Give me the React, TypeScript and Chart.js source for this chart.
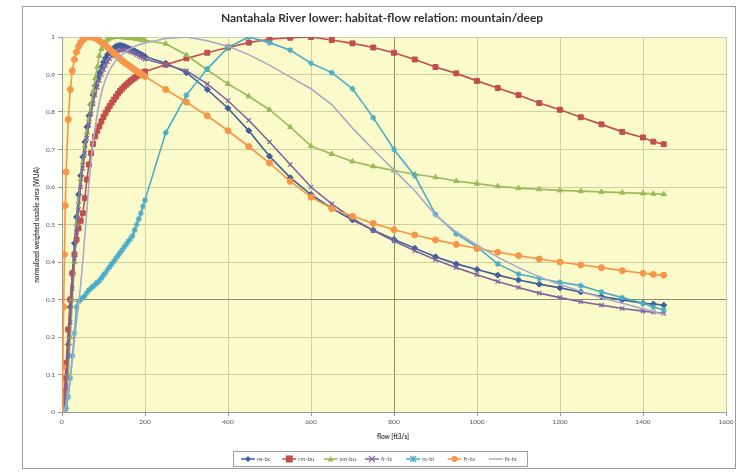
import React, { useEffect, useRef } from "react";
import { Chart, registerables } from "chart.js";

Chart.register(...registerables);

const TITLE = "Nantahala River lower: habitat-flow relation: mountain/deep";
const X_TITLE = "flow [ft3/s]";
const Y_TITLE = "normalized weighted usable area (WUA)";

const FLOWS = [
  0, 2, 4, 6, 8, 10, 15, 20, 25, 30, 35, 40, 45, 50, 55, 60, 65, 70, 75, 80, 85, 90, 95, 100,
  105, 110, 115, 120, 125, 130, 135, 140, 145, 150, 155, 160, 165, 170, 175, 180, 185, 190, 195, 200,
  250, 300, 350, 400, 450, 500, 550, 600, 650, 700, 750, 800, 850, 900, 950, 1000, 1050, 1100,
  1150, 1200, 1250, 1300, 1350, 1400, 1425, 1450,
];

const SERIES_NAMES = ["re-bc", "rm-bu", "sm-bu", "fr-ts", "rs-bi", "fr-ta", "fs-ts"];

const reBc = [
  0, 0, 0.01, 0.03, 0.06, 0.09, 0.18, 0.28, 0.37, 0.45, 0.52, 0.58, 0.63, 0.68, 0.72, 0.76, 0.79, 0.82, 0.845, 0.87, 0.89, 0.905, 0.92, 0.933,
  0.944, 0.953, 0.96, 0.966, 0.971, 0.975, 0.977, 0.978, 0.977, 0.975, 0.973, 0.97, 0.968, 0.966, 0.963, 0.96, 0.957, 0.954, 0.951, 0.948,
  0.93, 0.905, 0.86, 0.81, 0.75, 0.682, 0.625, 0.58, 0.543, 0.512, 0.485, 0.46, 0.437, 0.414, 0.395, 0.38, 0.365, 0.352,
  0.341, 0.331, 0.32, 0.308, 0.299, 0.29, 0.288, 0.285,
];
const rmBu = [
  0, 0, 0.02, 0.05, 0.09, 0.13, 0.22, 0.3, 0.37, 0.42, 0.46, 0.49, 0.51, 0.53, 0.57, 0.62, 0.66, 0.69, 0.715, 0.735, 0.75, 0.762, 0.775, 0.787,
  0.797, 0.807, 0.816, 0.825, 0.833, 0.841, 0.849, 0.856, 0.862, 0.868, 0.873, 0.878, 0.883, 0.887, 0.891, 0.895, 0.899, 0.902, 0.905, 0.908,
  0.926, 0.943, 0.958, 0.972, 0.985, 0.994, 0.998, 1.0, 0.992, 0.983, 0.972, 0.958, 0.94, 0.92, 0.903, 0.883, 0.864, 0.845,
  0.824, 0.806, 0.786, 0.767, 0.747, 0.732, 0.721, 0.714,
];
const smBu = [
  0, 0, 0, 0.01, 0.02, 0.04, 0.1, 0.2, 0.3, 0.4, 0.5, 0.56, 0.62, 0.665, 0.71, 0.745, 0.78, 0.82, 0.855, 0.89, 0.92, 0.95, 0.968, 0.98,
  0.988, 0.993, 0.996, 0.998, 1.0, 1.0, 1.0, 1.0, 0.999, 0.999, 0.998, 0.998, 0.997, 0.997, 0.996, 0.995, 0.994, 0.993, 0.992, 0.991,
  0.982, 0.952, 0.912, 0.875, 0.842, 0.806, 0.76, 0.709, 0.688, 0.668, 0.655, 0.644, 0.634, 0.626, 0.616, 0.609, 0.602, 0.597,
  0.594, 0.591, 0.589, 0.587, 0.585, 0.583, 0.582, 0.581,
];
const frTs = [
  0, 0, 0.01, 0.02, 0.04, 0.07, 0.15, 0.24, 0.33, 0.41, 0.48, 0.54, 0.6, 0.65, 0.69, 0.73, 0.765, 0.795, 0.822, 0.846, 0.866, 0.884, 0.9, 0.913,
  0.924, 0.934, 0.942, 0.949, 0.955, 0.96, 0.963, 0.965, 0.966, 0.966, 0.965, 0.963, 0.961, 0.959, 0.956, 0.953, 0.95, 0.947, 0.944, 0.941,
  0.926, 0.91, 0.875, 0.83, 0.778, 0.72, 0.66, 0.6, 0.555, 0.516, 0.484, 0.456, 0.43, 0.406, 0.385, 0.366, 0.348, 0.332,
  0.317, 0.305, 0.294, 0.285, 0.276, 0.269, 0.266, 0.263,
];
const rsBi = [
  0, 0, 0, 0, 0.01, 0.01, 0.04, 0.09, 0.15, 0.21, 0.28, 0.295, 0.3, 0.305, 0.31, 0.318, 0.325, 0.33, 0.335, 0.34, 0.345, 0.35, 0.357, 0.365,
  0.372, 0.38, 0.387, 0.395, 0.402, 0.41, 0.417, 0.425, 0.432, 0.44, 0.447, 0.455, 0.462, 0.47, 0.485, 0.5, 0.515, 0.53, 0.548, 0.565,
  0.745, 0.845, 0.915, 0.972, 1.0, 0.985, 0.965, 0.93, 0.905, 0.862, 0.785, 0.7, 0.63, 0.527, 0.475, 0.44, 0.395, 0.368,
  0.356, 0.346, 0.337, 0.32, 0.305, 0.29, 0.28, 0.272,
];
const frTa = [
  0, 0.12, 0.28, 0.42, 0.55, 0.64, 0.78, 0.86, 0.91, 0.94, 0.96, 0.975, 0.985, 0.992, 0.997, 1.0, 1.0, 1.0, 0.999, 0.997, 0.994, 0.99, 0.986, 0.982,
  0.977, 0.972, 0.967, 0.962, 0.957, 0.952, 0.947, 0.942, 0.937, 0.933, 0.929, 0.925, 0.921, 0.917, 0.913, 0.909, 0.905, 0.902, 0.898, 0.895,
  0.86, 0.826, 0.79, 0.75, 0.708, 0.664, 0.615, 0.573, 0.543, 0.522, 0.503, 0.486, 0.472, 0.459, 0.447, 0.436, 0.426, 0.417,
  0.408, 0.4, 0.392, 0.385, 0.377, 0.37, 0.367, 0.365,
];
const fsTs = [
  0, 0, 0, 0, 0.01, 0.02, 0.05, 0.09, 0.14, 0.19, 0.24, 0.29, 0.34, 0.4, 0.47, 0.54, 0.61, 0.67, 0.72, 0.76, 0.795, 0.825, 0.85, 0.87,
  0.887, 0.9, 0.912, 0.922, 0.93, 0.937, 0.943, 0.948, 0.953, 0.958, 0.962, 0.966, 0.969, 0.972, 0.975, 0.977, 0.979, 0.981, 0.983, 0.984,
  0.996, 1.0, 0.99, 0.975, 0.953, 0.925, 0.893, 0.862, 0.82, 0.757, 0.7, 0.645, 0.59, 0.525, 0.48, 0.445, 0.413, 0.385,
  0.36, 0.34, 0.322, 0.305, 0.29, 0.275, 0.268, 0.26,
];

const SERIES_VALUES = [reBc, rmBu, smBu, frTs, rsBi, frTa, fsTs];
const COLORS = ["#3E5F9A", "#C0504D", "#9BBB59", "#7F649F", "#4BACC6", "#F79646", "#A9A9C9"];
const MARKERS: any[] = ["rectRot", "rect", "triangle", "crossRot", "star", "circle", false];
const RADII = [3, 3.5, 3, 3, 3, 3, 0];

const X_TICKS_MAX = 1600;
const FONT = "Lato, 'Open Sans', sans-serif";

function drawMarker(ctx: CanvasRenderingContext2D, style: string, r: number, x: number, y: number) {
  ctx.beginPath();
  if (style === "circle") {
    ctx.arc(x, y, r, 0, Math.PI * 2);
    ctx.fill();
  } else if (style === "rect") {
    ctx.fillRect(x - r, y - r, 2 * r, 2 * r);
  } else if (style === "rectRot") {
    ctx.moveTo(x, y - r); ctx.lineTo(x + r, y); ctx.lineTo(x, y + r); ctx.lineTo(x - r, y); ctx.closePath(); ctx.fill();
  } else if (style === "triangle") {
    ctx.moveTo(x, y - r); ctx.lineTo(x + r, y + r * 0.8); ctx.lineTo(x - r, y + r * 0.8); ctx.closePath(); ctx.fill();
  } else if (style === "crossRot") {
    ctx.moveTo(x - r, y - r); ctx.lineTo(x + r, y + r); ctx.moveTo(x + r, y - r); ctx.lineTo(x - r, y + r); ctx.stroke();
  } else if (style === "star") {
    ctx.moveTo(x - r, y - r); ctx.lineTo(x + r, y + r); ctx.moveTo(x + r, y - r); ctx.lineTo(x - r, y + r);
    ctx.moveTo(x, y - r); ctx.lineTo(x, y + r); ctx.stroke();
  }
}

const decor = {
  id: "decor",
  beforeDraw(chart: any) {
    const { ctx, chartArea: a } = chart;
    ctx.save();
    ctx.fillStyle = "#ffffff";
    ctx.fillRect(0, 0, chart.width, chart.height);
    ctx.strokeStyle = "#9a9a9a";
    ctx.lineWidth = 1;
    ctx.strokeRect(22.5, 6.5, 713, 462);
    ctx.fillStyle = "#FAFACB";
    ctx.fillRect(a.left, a.top, a.right - a.left, a.bottom - a.top);
    ctx.restore();
  },
  afterDraw(chart: any) {
    const { ctx } = chart;
    ctx.save();
    ctx.fillStyle = "#333333";
    ctx.font = `bold 12px ${FONT}`;
    ctx.textAlign = "center";
    ctx.textBaseline = "middle";
    ctx.fillText(TITLE, 382, 18);
    ctx.font = `bold 6.5px ${FONT}`;
    ctx.fillStyle = "#444444";
    ctx.fillText(X_TITLE, 393, 437);
    ctx.save();
    ctx.translate(37, 225);
    ctx.rotate(-Math.PI / 2);
    ctx.fillText(Y_TITLE, 0, 0);
    ctx.restore();
    const bx = 233, by = 451, bw = 294, bh = 15;
    ctx.fillStyle = "#ffffff";
    ctx.fillRect(bx, by, bw, bh);
    ctx.strokeStyle = "#a0a0a0";
    ctx.lineWidth = 1;
    ctx.strokeRect(bx + 0.5, by + 0.5, bw, bh);
    ctx.font = `6px ${FONT}`;
    ctx.textAlign = "left";
    const cy = by + bh / 2 + 0.5;
    SERIES_NAMES.forEach((name, i) => {
      const x0 = 241 + i * 41.3;
      ctx.strokeStyle = COLORS[i];
      ctx.lineWidth = 1.5;
      ctx.beginPath();
      ctx.moveTo(x0, cy);
      ctx.lineTo(x0 + 14, cy);
      ctx.stroke();
      if (MARKERS[i]) {
        ctx.fillStyle = COLORS[i];
        ctx.lineWidth = 1.1;
        drawMarker(ctx, MARKERS[i], RADII[i], x0 + 7, cy);
      }
      ctx.fillStyle = "#555555";
      ctx.fillText(name, x0 + 16, cy);
    });
    ctx.restore();
  },
};

export default function App() {
  const ref = useRef<HTMLCanvasElement>(null);
  useEffect(() => {
    if (!ref.current) return;
    const datasets = SERIES_VALUES.map((vals, i) => ({
      label: SERIES_NAMES[i],
      data: FLOWS.map((x, j) => ({ x, y: vals[j] })),
      borderColor: COLORS[i],
      backgroundColor: COLORS[i],
      pointBackgroundColor: COLORS[i],
      pointBorderColor: COLORS[i],
      borderWidth: 1.6,
      pointStyle: MARKERS[i],
      pointRadius: RADII[i],
      pointBorderWidth: i === 3 || i === 4 ? 1.2 : 1,
      tension: 0,
      order: 6 - i,
    }));
    const chart = new Chart(ref.current, {
      type: "line",
      data: { datasets },
      options: {
        animation: false,
        responsive: false,
        devicePixelRatio: 1,
        layout: { padding: { left: 22, right: 17, top: 37, bottom: 0 } },
        plugins: { legend: { display: false }, title: { display: false }, tooltip: { enabled: false } },
        scales: {
          x: {
            type: "linear",
            min: 0,
            max: X_TICKS_MAX,
            afterFit: (s: any) => { s.height = 60; },
            ticks: {
              stepSize: 200,
              font: { size: 6.5, family: FONT },
              color: "#555555",
              padding: 2,
              maxRotation: 0,
              callback: (v: any) => String(v),
            },
            grid: {
              color: (c: any) => (c.tick && c.tick.value === 800 ? "#8c8c72" : "#cfcfa6"),
              lineWidth: 1,
              tickLength: 4,
              tickColor: "#9a9a9a",
            },
            border: { color: "#9a9a9a" },
          },
          y: {
            min: 0,
            max: 1,
            afterFit: (s: any) => { s.width = 40; },
            ticks: {
              stepSize: 0.1,
              font: { size: 6.5, family: FONT },
              color: "#555555",
              padding: 3,
              callback: (v: any) => String(Math.round(v * 10) / 10),
            },
            grid: {
              color: (c: any) => (c.tick && Math.abs(c.tick.value - 0.3) < 1e-6 ? "#8c8c72" : "#cfcfa6"),
              lineWidth: 1,
              tickLength: 4,
              tickColor: "#9a9a9a",
            },
            border: { color: "#9a9a9a" },
          },
        },
      },
      plugins: [decor],
    });
    return () => chart.destroy();
  }, []);
  return (
    <div style={{ position: "fixed", left: 0, top: 0, width: 743, height: 472, background: "#fff" }}>
      <canvas ref={ref} width={743} height={472} style={{ width: 743, height: 472 }} />
    </div>
  );
}
